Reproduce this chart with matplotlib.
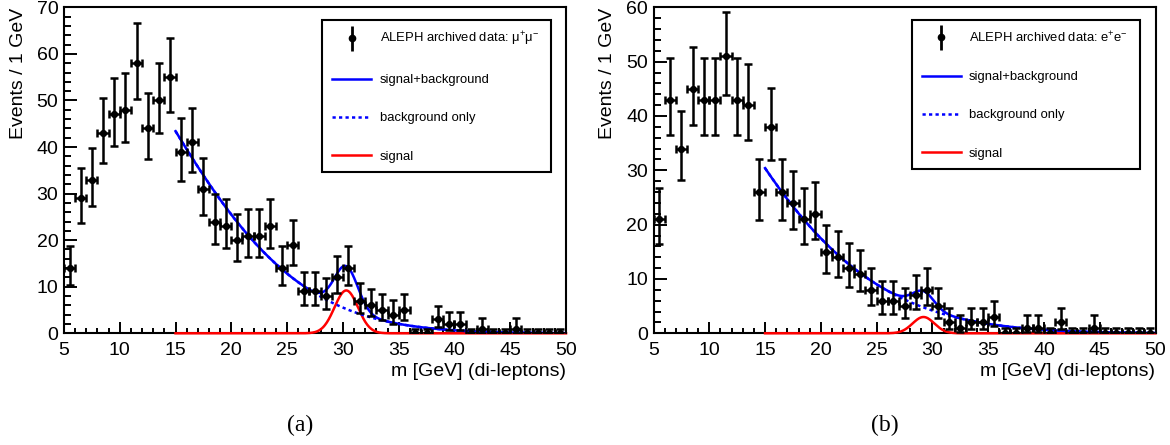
import numpy as np
import matplotlib
matplotlib.use("Agg")
import matplotlib.pyplot as plt
from matplotlib.lines import Line2D
from matplotlib.legend_handler import HandlerTuple
from matplotlib.ticker import MultipleLocator

plt.rcParams['font.family'] = ['Liberation Sans', 'DejaVu Sans']
plt.rcParams['mathtext.fontset'] = 'custom'
plt.rcParams['mathtext.rm'] = 'Liberation Sans'
plt.rcParams['mathtext.it'] = 'Liberation Sans:italic'
plt.rcParams['mathtext.bf'] = 'Liberation Sans:bold'

# ---------------- data ----------------
bin_low, bin_high = 5, 50
bin_centers = np.arange(bin_low + 0.5, bin_high, 1.0)

mumu_counts = [14, 29, 33, 43, 47, 48, 58, 44, 50, 55,
               39, 41, 31, 24, 23, 20, 21, 21, 23, 14,
               19, 9, 9, 8, 12, 14, 7, 6, 5, 4,
               5, 0, 0, 3, 2, 2, 0, 1, 0, 0,
               1, 0, 0, 0, 0]

ee_counts = [21, 43, 34, 45, 43, 43, 51, 43, 42, 26,
             38, 26, 24, 21, 22, 15, 14, 12, 11, 8,
             6, 6, 5, 7, 8, 5, 2, 1, 2, 2,
             3, 0, 0, 1, 1, 0, 2, 0, 0, 1,
             0, 0, 0, 0, 0]

# fit results: background = norm*exp(slope*d + curv*d^2), d = m - fit_start
fit_start, fit_end = 15, 50
mumu_bkg = [43.4, -0.091, -0.0031]
mumu_sig = [9.2, 30.3, 1.05]      # amplitude, mean, sigma
ee_bkg = [30.4, -0.100, -0.00215]
ee_sig = [3.0, 29.2, 0.97]

panel_ymax = [70, 60]
panel_tags = ['(a)', '(b)']
data_labels = [r'ALEPH archived data: μ$^{+}$μ$^{-}$', r'ALEPH archived data: e$^{+}$e$^{-}$']
curve_labels = ['signal+background', 'background only', 'signal']


def poisson_errors(counts):
    n = np.asarray(counts, dtype=float)
    lo = np.zeros_like(n)
    hi = np.ones_like(n)
    m = n > 0
    nn = n[m]
    low = nn * (1 - 1 / (9 * nn) - 1 / (3 * np.sqrt(nn))) ** 3
    up = (nn + 1) * (1 - 1 / (9 * (nn + 1)) + 1 / (3 * np.sqrt(nn + 1))) ** 3
    lo[m] = nn - low
    hi[m] = up - nn
    return lo, hi


fig = plt.figure(figsize=(11.70, 4.45), dpi=100)
ax_w = 502 / 1170
ax_h = 326 / 445
ax_b = (445 - 333.3) / 445
lefts = [64 / 1170, 653.5 / 1170]

datasets = [(mumu_counts, mumu_bkg, mumu_sig), (ee_counts, ee_bkg, ee_sig)]
tag_x = [300 / 1170, 885 / 1170]

for i, (counts, bkg, sig) in enumerate(datasets):
    ax = fig.add_axes([lefts[i], ax_b, ax_w, ax_h])
    lo, hi = poisson_errors(counts)
    ax.errorbar(bin_centers, counts, xerr=0.5, yerr=[lo, hi], fmt='o', color='black',
                ms=4.2, elinewidth=1.8, capsize=2.8, capthick=1.8, zorder=4)

    m = np.linspace(fit_start, fit_end, 600)
    d = m - fit_start
    b = bkg[0] * np.exp(bkg[1] * d + bkg[2] * d ** 2)
    s = sig[0] * np.exp(-0.5 * ((m - sig[1]) / sig[2]) ** 2)
    ax.plot(m, s, color='red', lw=1.8, zorder=3, clip_on=False)
    ax.plot(m, b, color='blue', lw=1.8, ls=(0, (1.3, 1.3)), zorder=3.1)
    ax.plot(m, s + b, color='blue', lw=1.8, zorder=3.2)

    ax.set_xlim(bin_low, bin_high)
    ax.set_ylim(0, panel_ymax[i])
    ax.xaxis.set_major_locator(MultipleLocator(5))
    ax.xaxis.set_minor_locator(MultipleLocator(1))
    ax.yaxis.set_major_locator(MultipleLocator(10))
    ax.yaxis.set_minor_locator(MultipleLocator(2))
    ax.tick_params(axis='both', which='both', direction='in', top=False, right=False,
                   width=1.4, labelsize=14)
    ax.tick_params(axis='x', which='major', length=7.7, pad=6)
    ax.tick_params(axis='x', which='minor', length=3.8)
    ax.tick_params(axis='y', which='major', length=9.3, pad=4)
    ax.tick_params(axis='y', which='minor', length=4.7)
    for sp in ax.spines.values():
        sp.set_linewidth(1.5)

    ax.set_xlabel('m [GeV] (di-leptons)', fontsize=14, loc='right', labelpad=3)
    ax.set_ylabel('Events / 1 GeV', fontsize=14, loc='top')
    ax.yaxis.set_label_coords(-0.074, 1.0)

    handles = [
        (Line2D([], [], color='black', marker='|', ms=18, mew=2.0, ls='none'),
         Line2D([], [], color='black', marker='o', ms=4.5, ls='none')),
        Line2D([], [], color='blue', lw=1.8),
        Line2D([], [], color='blue', lw=1.8, ls=(0, (1.3, 1.3))),
        Line2D([], [], color='red', lw=1.8),
    ]
    labels = [data_labels[i]] + curve_labels
    leg = ax.legend(handles, labels, loc='upper left',
                    bbox_to_anchor=(0.5145, 0.455, 0.4555, 0.506), mode='expand',
                    borderaxespad=0, fontsize=9.4, handlelength=3.0, handletextpad=0.64,
                    labelspacing=2.0, borderpad=0.75, fancybox=False, framealpha=1,
                    edgecolor='black',
                    handler_map={tuple: HandlerTuple(ndivide=1, pad=0)})
    leg.get_frame().set_linewidth(1.5)
    leg.set_zorder(5)

    fig.text(tag_x[i], 20 / 445, panel_tags[i], family='Liberation Serif', fontsize=17,
             ha='center', va='center')

fig.savefig('out.png', dpi=100)
